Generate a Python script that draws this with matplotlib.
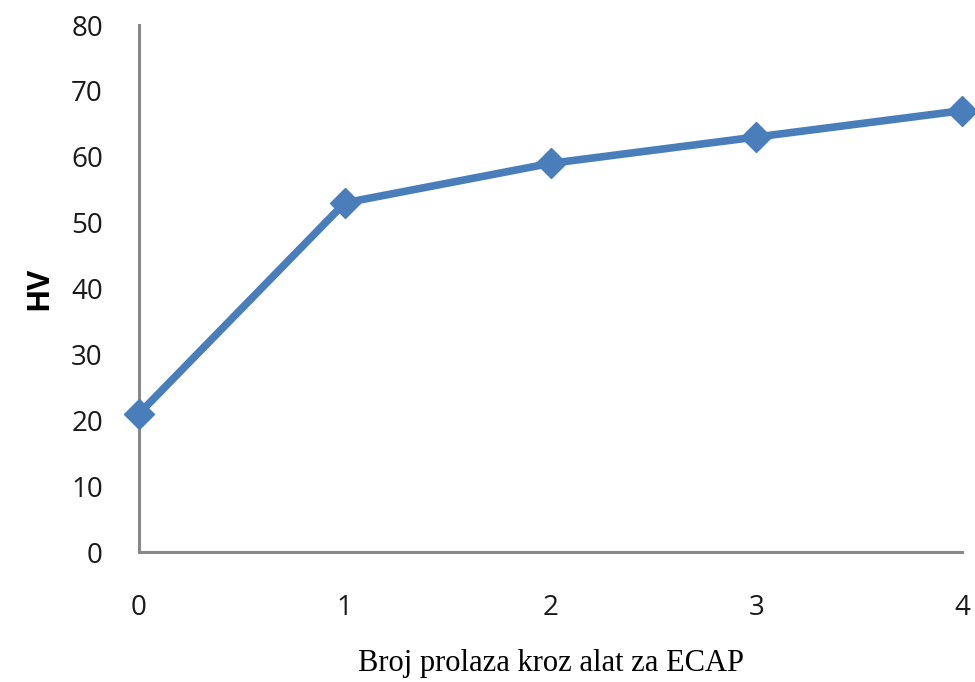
import matplotlib
matplotlib.use('Agg')
import matplotlib.pyplot as plt

passes = [0, 1, 2, 3, 4]
hv = [21, 53, 59, 63, 67]
y_ticks = [0, 10, 20, 30, 40, 50, 60, 70, 80]


def main():
    fig = plt.figure(figsize=(9.75, 6.82), dpi=100)
    ax = fig.add_axes([0.1426, 0.1906, 0.8441, 0.7727])

    ax.plot(passes, hv, color='#4A7EBB', linewidth=5.5, marker='D',
            markersize=15, clip_on=False, zorder=3)

    ax.set_xlim(0, 4)
    ax.set_ylim(0, 80)
    ax.set_xticks(passes)
    ax.set_yticks(y_ticks)

    for side in ['top', 'right']:
        ax.spines[side].set_visible(False)
    for side in ['left', 'bottom']:
        ax.spines[side].set_color('#888888')
        ax.spines[side].set_linewidth(2.2)

    ax.tick_params(axis='both', length=0, labelcolor='#1a1a1a')
    ax.tick_params(axis='y', pad=26)
    ax.tick_params(axis='x', pad=30)
    for lbl in ax.get_xticklabels() + ax.get_yticklabels():
        lbl.set_fontfamily('Open Sans')
        lbl.set_fontsize(20)

    ax.set_ylabel('HV', fontfamily='Open Sans', fontsize=22,
                  fontweight='bold', labelpad=12)
    ax.set_xlabel('Broj prolaza kroz alat za ECAP', fontfamily='Liberation Serif',
                  fontsize=22, labelpad=20)

    fig.savefig('out.png', dpi=100)


if __name__ == "__main__":
    main()
